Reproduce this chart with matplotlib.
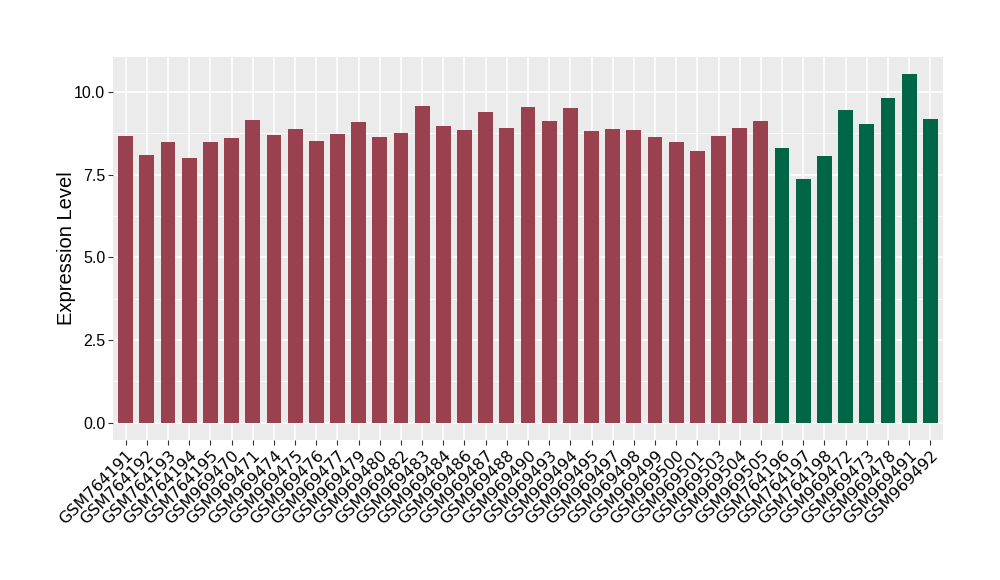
import numpy as np
import matplotlib
matplotlib.use("Agg")
import matplotlib.pyplot as plt

plt.rcParams['font.family'] = ['Liberation Sans', 'DejaVu Sans']

samples = ["GSM764191", "GSM764192", "GSM764193", "GSM764194", "GSM764195",
           "GSM969470", "GSM969471", "GSM969474", "GSM969475", "GSM969476",
           "GSM969477", "GSM969479", "GSM969480", "GSM969482", "GSM969483",
           "GSM969484", "GSM969486", "GSM969487", "GSM969488", "GSM969490",
           "GSM969493", "GSM969494", "GSM969495", "GSM969497", "GSM969498",
           "GSM969499", "GSM969500", "GSM969501", "GSM969503", "GSM969504",
           "GSM969505", "GSM764196", "GSM764197", "GSM764198", "GSM969472",
           "GSM969473", "GSM969478", "GSM969491", "GSM969492"]
values = [8.67, 8.10, 8.49, 8.01, 8.49, 8.61, 9.16, 8.70, 8.89, 8.52,
          8.73, 9.10, 8.64, 8.76, 9.58, 8.98, 8.86, 9.40, 8.92, 9.55,
          9.13, 9.52, 8.83, 8.89, 8.86, 8.64, 8.49, 8.22, 8.67, 8.92,
          9.13, 8.31, 7.38, 8.07, 9.46, 9.04, 9.82, 10.54, 9.19]
groups = ["a"] * 31 + ["b"] * 8
group_colors = {"a": "#9a4150", "b": "#006646"}

fig = plt.figure(figsize=(10, 5.8), dpi=100)
ax = fig.add_axes([0.113, 0.241, 0.830, 0.661])
ax.set_facecolor("#ebebeb")

x = np.arange(len(samples))
ax.bar(x, values, width=0.7, color=[group_colors[g] for g in groups], zorder=3)

ax.set_xlim(-0.6, len(samples) - 0.4)
ymax = max(values)
ax.set_ylim(-0.05 * ymax, ymax * 1.05)
ax.set_yticks([0, 2.5, 5.0, 7.5, 10.0])
ax.set_yticklabels(["0.0", "2.5", "5.0", "7.5", "10.0"])
ax.set_yticks([1.25, 3.75, 6.25, 8.75], minor=True)
ax.set_xticks(x)
ax.set_xticklabels(samples, rotation=45, ha="right", va="top", rotation_mode="anchor",
                   family="DejaVu Sans", fontsize=11.5)

ax.grid(which="major", color="white", linewidth=1.1, zorder=0)
ax.grid(which="minor", axis="y", color="white", linewidth=0.55, zorder=0)
for s in ax.spines.values():
    s.set_visible(False)
ax.tick_params(which="major", length=3.5, color="#333333", labelsize=11.5, labelcolor="black", pad=2)
ax.tick_params(which="minor", length=0)

ax.set_ylabel("Expression Level", fontsize=14.5, labelpad=-1)

fig.savefig("out.png", dpi=100)
